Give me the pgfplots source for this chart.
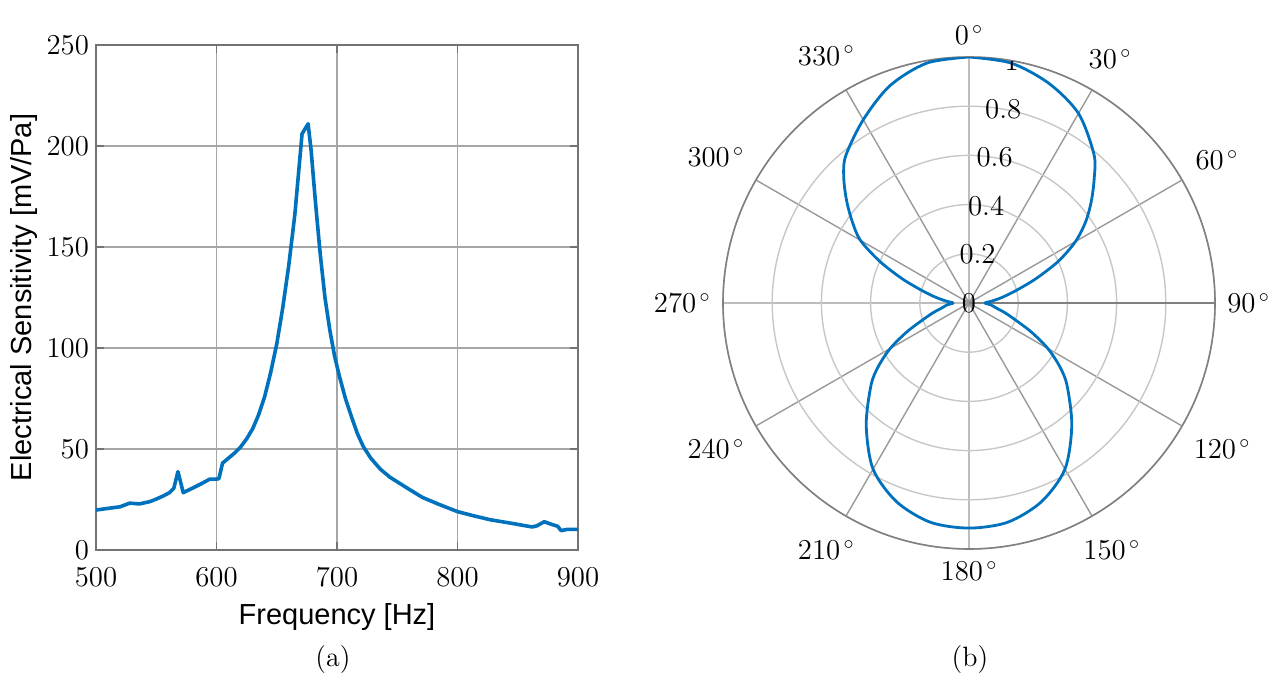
\documentclass[border=0pt]{standalone}
\usepackage{fontspec}
\usepackage{pgfplots}
\usepackage{pgfplotstable}
\pgfplotsset{compat=1.18}
\usepgfplotslibrary{polar}
\newfontfamily\arial{Liberation Sans}
\definecolor{mblue}{HTML}{0072BD}

% sensitivity vs frequency
\pgfplotstableread{
f s
500 19.8
510 20.6
520 21.4
528 23.2
536 22.8
545 24.0
550 25.2
556 26.8
561 28.4
564.6 30.6
568 38.8
572.4 28.4
580 30.6
588 33.0
594.5 35.1
600 35.1
602 35.3
605 43
610 45.5
615 48
620 51
625 55
630 60
635 67
640 76
645 88
650 102
655 120
660 141
665 166
668 186
671 206
676 211
678.5 198
682 173
686 147
690 125
694 109
698 96
702 86
707 75
712 66
717 57.5
722 51
728 45.5
736 40
744 36
752 33
760 30
771 26
785 22.5
800 19
813 17
827 15
845 13.2
862 11.4
866 12
872 14
879 12.5
883 11.8
886 9.6
891 10.2
900 10.2
}\sens

% directivity, angle clockwise from north
\pgfplotstableread{
t r
0 1.00
10 0.99
20 0.95
30 0.89
40 0.79
45 0.72
50 0.65
55 0.58
60 0.50
65 0.40
70 0.29
75 0.20
80 0.14
85 0.095
90 0.065
95 0.09
100 0.11
105 0.15
110 0.20
115 0.28
120 0.37
125 0.45
130 0.52
140 0.65
150 0.78
160 0.86
170 0.905
180 0.915
190 0.905
200 0.86
210 0.78
220 0.65
230 0.52
235 0.45
240 0.37
245 0.28
250 0.20
255 0.15
260 0.11
265 0.09
270 0.065
275 0.095
280 0.14
285 0.20
290 0.29
295 0.40
300 0.51
305 0.58
310 0.65
315 0.72
320 0.78
330 0.86
340 0.94
350 0.99
360 1.00
}\beam

\begin{document}
\begin{tikzpicture}[x=1pt,y=1pt]
\path[use as bounding box] (0,0) rectangle (636.5,340);

\begin{axis}[
  at={(48pt,65pt)}, anchor=south west,
  scale only axis, width=241pt, height=252.5pt,
  xmin=500, xmax=900, ymin=0, ymax=250,
  xtick={500,600,...,900}, ytick={0,50,...,250},
  grid=major, grid style={black!35, line width=0.7pt},
  axis line style={black!55, line width=0.8pt},
  tick style={black!55, line width=0.7pt},
  tick align=inside, major tick length=4pt,
  ticklabel style={font=\fontsize{14}{16}\selectfont},
  xticklabel shift=5.5pt,
  xlabel={Frequency [Hz]},
  ylabel={Electrical Sensitivity [mV/Pa]},
  label style={font=\fontsize{14.5}{17}\selectfont\arial},
  xlabel style={at={(axis description cs:0.5,-0.133)}, anchor=center},
  ylabel style={at={(axis description cs:-0.149,0.5)}, anchor=center},
]
\addplot[mblue, line width=1.8pt, line join=round] table[x=f, y=s] {\sens};
\end{axis}

\begin{polaraxis}[
  at={(484.5pt,188.5pt)}, anchor=center,
  scale only axis, width=246pt, height=246pt,
  ymin=0, ymax=1,
  xtick={0,30,...,330},
  xticklabels={$90^{\,\circ}$,$60^{\,\circ}$,$30^{\,\circ}$,$0^{\,\circ}$,$330^{\,\circ}$,$300^{\,\circ}$,
               $270^{\,\circ}$,$240^{\,\circ}$,$210^{\,\circ}$,$180^{\,\circ}$,$150^{\,\circ}$,$120^{\,\circ}$},
  ytick={0,0.2,...,1}, yticklabels={},
  xmajorgrids, ymajorgrids,
  x grid style={black!40, line width=0.7pt},
  y grid style={black!22, line width=0.7pt},
  axis line style={black!50, line width=0.8pt},
  major tick length=0pt,
  xticklabel style={font=\fontsize{14}{16}\selectfont, inner sep=6pt},
]
\addplot[mblue, line width=1.4pt, smooth, line join=round]
  table[x expr=90-\thisrow{t}, y=r] {\beam};
\node[font=\fontsize{14}{16}\selectfont] at (axis cs:80,0) {$0$};
\node[font=\fontsize{14}{16}\selectfont] at (axis cs:80,0.2) {$0.2$};
\node[font=\fontsize{14}{16}\selectfont] at (axis cs:80,0.4) {$0.4$};
\node[font=\fontsize{14}{16}\selectfont] at (axis cs:80,0.6) {$0.6$};
\node[font=\fontsize{14}{16}\selectfont] at (axis cs:80,0.8) {$0.8$};
\node[font=\fontsize{14}{16}\selectfont] at (axis cs:80,1) {$1$};
\end{polaraxis}

\node[font=\fontsize{14}{16}\selectfont] at (166.5,10) {(a)};
\node[font=\fontsize{14}{16}\selectfont] at (485,10) {(b)};
\end{tikzpicture}
\end{document}
